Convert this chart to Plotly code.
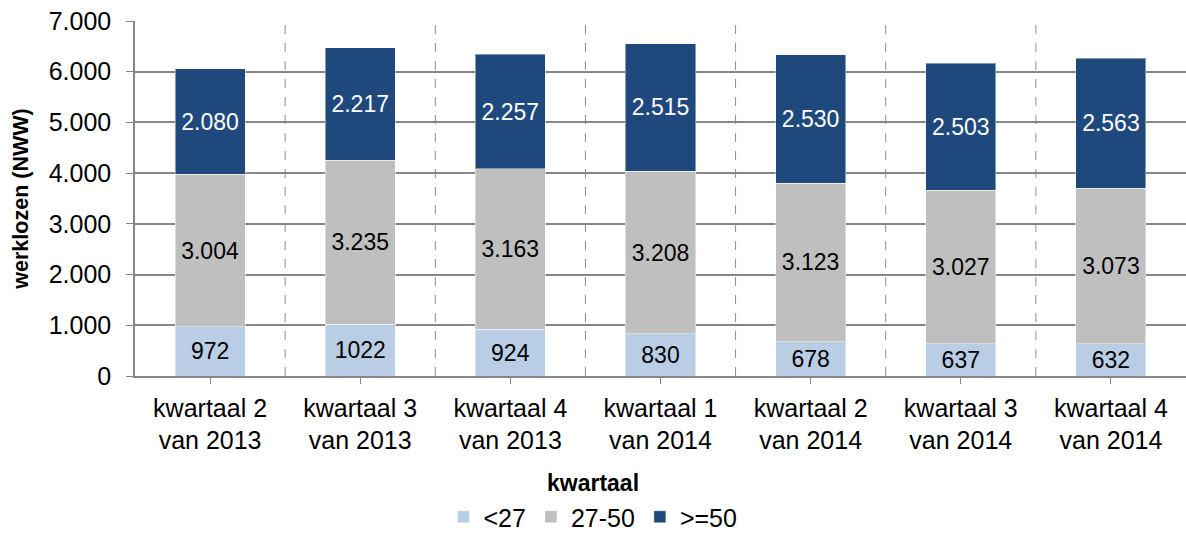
import plotly.graph_objects as go

categories = ["kwartaal 2<br>van 2013", "kwartaal 3<br>van 2013", "kwartaal 4<br>van 2013",
              "kwartaal 1<br>van 2014", "kwartaal 2<br>van 2014", "kwartaal 3<br>van 2014",
              "kwartaal 4<br>van 2014"]
under27 = [972, 1022, 924, 830, 678, 637, 632]
mid27_50 = [3004, 3235, 3163, 3208, 3123, 3027, 3073]
over50 = [2080, 2217, 2257, 2515, 2530, 2503, 2563]
y_ticks = [0, 1000, 2000, 3000, 4000, 5000, 6000, 7000]
y_ticktext = ["0", "1.000", "2.000", "3.000", "4.000", "5.000", "6.000", "7.000"]

def dotted(v):
    return f"{v:,}".replace(",", ".")

FONT = "Liberation Sans, Arial, sans-serif"
DL = 23
EDGE = dict(color="rgba(255,255,255,0.45)", width=1)
fig = go.Figure()
fig.add_trace(go.Bar(x=categories, y=under27, name="<27", marker_color="#B9CDE5",
                     marker_line=EDGE,
                     text=[str(v) for v in under27], textposition="inside",
                     insidetextanchor="middle",
                     textfont=dict(color="black", size=DL, family=FONT)))
fig.add_trace(go.Bar(x=categories, y=mid27_50, name="27-50", marker_color="#BFBFBF",
                     marker_line=EDGE,
                     text=[dotted(v) for v in mid27_50], textposition="inside",
                     insidetextanchor="middle",
                     textfont=dict(color="black", size=DL, family=FONT)))
fig.add_trace(go.Bar(x=categories, y=over50, name=">=50", marker_color="#1F497D",
                     marker_line=EDGE,
                     text=[dotted(v) for v in over50], textposition="inside",
                     insidetextanchor="middle",
                     textfont=dict(color="white", size=DL, family=FONT)))

shapes = []
for i in range(len(categories) - 1):
    shapes.append(dict(type="line", xref="x", yref="paper", x0=i + 0.5, x1=i + 0.5,
                       y0=0, y1=1, line=dict(color="#8C8C8C", width=1, dash="dash"),
                       layer="below"))

fig.update_layout(
    width=1186, height=540,
    barmode="stack", bargap=0.533,
    plot_bgcolor="white", paper_bgcolor="white",
    margin=dict(l=135, r=0, t=21, b=164, autoexpand=False),
    font=dict(family=FONT, color="black", size=25),
    uniformtext=dict(mode="show", minsize=10),
    shapes=shapes,
    showlegend=True,
    legend=dict(orientation="h", xref="container", x=0.5, xanchor="center",
                yref="container", y=-0.009, yanchor="bottom",
                font=dict(size=25, family=FONT), traceorder="normal",
                itemwidth=30),
    xaxis=dict(showline=True, linecolor="#868686", linewidth=1.5,
               ticks="outside", ticklen=6, tickcolor="#868686",
               tickfont=dict(size=25, family=FONT), showgrid=False,
               automargin=False, ticklabelstandoff=3),
    yaxis=dict(range=[0, 7000], tickvals=y_ticks, ticktext=y_ticktext,
               showline=True, linecolor="#868686", linewidth=1.5,
               ticks="outside", ticklen=7, tickcolor="#868686",
               showgrid=True, gridcolor="#868686", gridwidth=1.5,
               tickfont=dict(size=25, family=FONT), automargin=False,
               ticklabelstandoff=10,
               title=dict(text="<b>werklozen (NWW)</b>", font=dict(size=21.5, family=FONT),
                          standoff=14),
               zeroline=False),
    annotations=[dict(text="<b>kwartaal</b>", xref="paper", yref="paper",
                      x=(593 - 135) / 1051, y=(376 - 483) / 355,
                      xanchor="center", yanchor="middle",
                      showarrow=False, font=dict(size=23, family=FONT))],
)

fig.write_html("out.html", config={"displayModeBar": False},
               post_script="document.body.style.margin='0';document.body.style.padding='0';")
